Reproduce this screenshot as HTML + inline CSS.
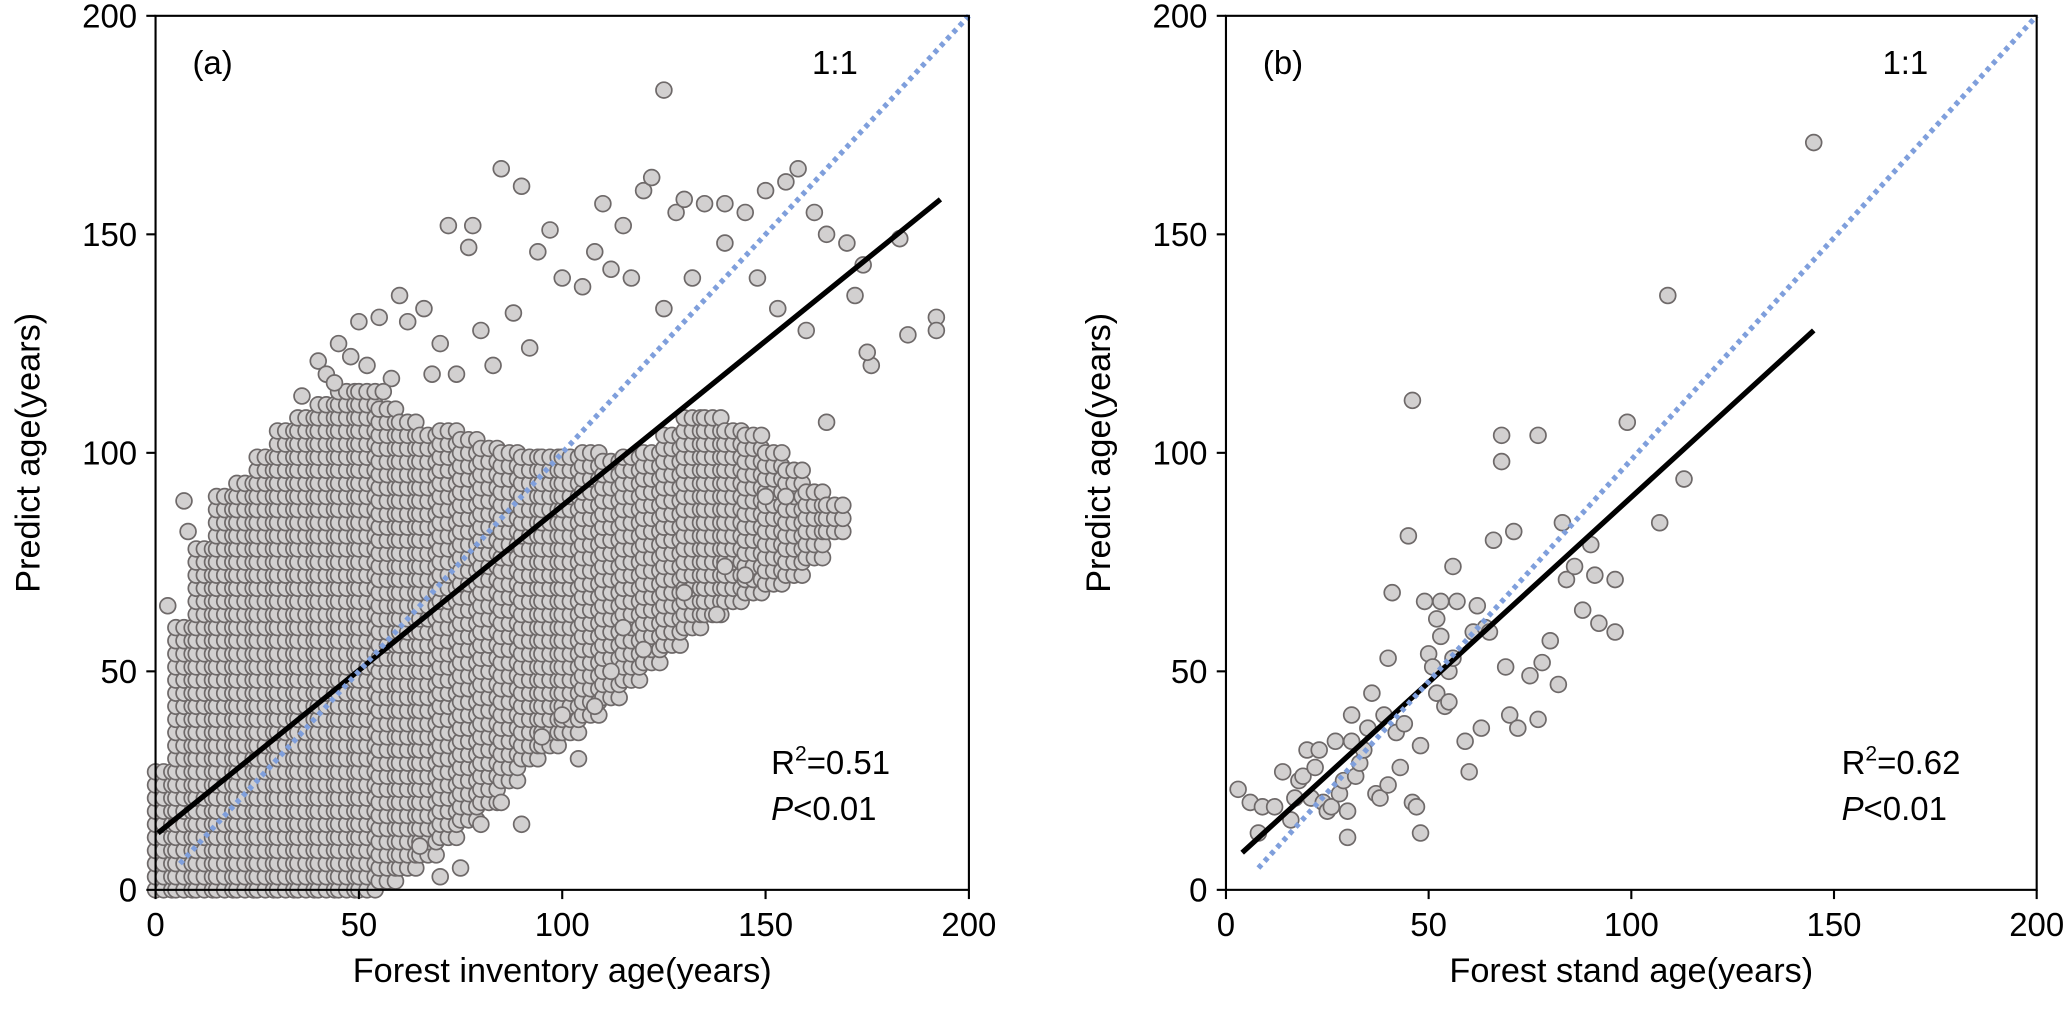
<!DOCTYPE html>
<html><head><meta charset="utf-8"><style>
html,body{margin:0;padding:0;background:#fff;overflow:hidden;}
#chart{position:fixed;left:0;top:0;width:100vw;height:100vh;}
svg text{font-family:"Liberation Sans",Arial,sans-serif;fill:#000;}
</style></head><body>
<svg id="chart" viewBox="0 0 1568 776" preserveAspectRatio="none" xmlns="http://www.w3.org/2000/svg">
<g id="pa"></g>
<g id="pb"></g>
</svg>
<script>
const ticks=[0,50,100,150,200];
// Panel a: dense-core envelope per x bin
const aBinX=[0,5,10,15,20,25,30,35,40,45,50,55,60,65,70,75,80,85,90,95,100,105,110,115,120,125,130,135,140,145,150,155,160,165,170,175,180,185,190];
const aBinHi=[28,62,80,90,95,100,105,108,112,115,115,112,108,106,105,104,103,102,101,100,100,100,100,100,102,105,108,108,106,104,100,96,92,88,84,80,75,70,65];
const aBinLo=[0,0,0,0,0,0,0,0,0,0,0,2,5,8,12,16,20,25,30,33,36,40,44,48,52,56,60,63,66,68,70,72,76,82,90,96,100,100,100];
const aOutX=[85,125,72,77,78,90,97,110,115,120,122,128,130,135,140,145,150,155,158,162,165,170,174,183,185,192,192,176,172,66,60,55,50,45,40,62,80,88,94,100,105,108,112,117,125,132,140,148,153,160,175,165,155,145,140,150,138,112,108,104,95,85,80,75,70,90,3,7,8,65,100,120,130,115,42,48,52,58,70,74,83,92,36,44,56,68];
const aOutY=[165,183,152,147,152,161,151,157,152,160,163,155,158,157,157,155,160,162,165,155,150,148,143,149,127,131,128,120,136,133,136,131,130,125,121,130,128,132,146,140,138,146,142,140,133,140,148,140,133,128,123,107,90,72,74,90,63,50,42,30,35,20,15,5,3,15,65,89,82,10,40,55,68,60,118,122,120,117,125,118,120,124,113,116,114,118];
const aFit=[[0.6,13],[193,158]];
const aOne=[[6,6],[200,200]];
// Panel b
const bX=[3,6,8,9,12,14,16,17,18,19,20,21,22,23,24,25,26,27,28,29,30,30,31,31,32,33,34,35,36,37,38,39,40,40,41,42,43,44,45,46,46,47,48,48,49,50,51,52,52,53,53,54,55,55,56,56,57,59,60,61,62,63,64,65,66,68,68,69,70,71,72,75,77,77,78,80,82,83,84,86,88,90,91,92,96,96,99,107,109,113,145];
const bY=[23,20,13,19,19,27,16,21,25,26,32,21,28,32,20,18,19,34,22,25,18,12,34,40,26,29,32,37,45,22,21,40,24,53,68,36,28,38,81,20,112,19,13,33,66,54,51,45,62,58,66,42,43,50,74,53,66,34,27,59,65,37,60,59,80,98,104,51,40,82,37,49,104,39,52,57,47,84,71,74,64,79,72,61,71,59,107,84,136,94,171];
const bFit=[[4,8.5],[145,128]];
const bOne=[[8,5],[200,200]];

const NS="http://www.w3.org/2000/svg";
function el(p,t,a){const e=document.createElementNS(NS,t);for(const k in a)e.setAttribute(k,a[k]);p.appendChild(e);return e;}
function panel(x0,x1,y0,y1){
  const sx=v=>x0+(x1-x0)*v/200, sy=v=>y0-(y0-y1)*v/200;
  return {sx,sy};
}
function axes(g,x0,x1,y0,y1,sx,sy,xtitle,tag,r2){
  const f=el(g,'rect',{x:x0,y:y1,width:x1-x0,height:y0-y1,fill:'none',stroke:'#000','stroke-width':1.6});
  
  
  ticks.forEach(t=>{
    const tx=el(g,'line',{x1:sx(t),x2:sx(t),y1:y0,y2:y0+7,stroke:'#000','stroke-width':1.6});
    
    
    const lx=el(g,'text',{x:sx(t),y:y0+35,'font-size':25,'text-anchor':'middle'});lx.textContent=t;
    
    
    const ty=el(g,'line',{x1:x0-7,x2:x0,y1:sy(t),y2:sy(t),stroke:'#000','stroke-width':1.6});
    
    
    const ly=el(g,'text',{x:x0-14,y:sy(t)+9,'font-size':25,'text-anchor':'end'});ly.textContent=t;
    
    
  });
  const xt=el(g,'text',{x:(x0+x1)/2,y:y0+70,'font-size':26,'text-anchor':'middle'});xt.textContent=xtitle;
  
  
  const yt=el(g,'text',{x:0,y:0,'font-size':26,'text-anchor':'middle',transform:`translate(${x0-88},${(y0+y1)/2}) rotate(-90)`});yt.textContent='Predict age(years)';
  
  
  const pl=el(g,'text',{x:x0+28,y:y1+44,'font-size':25});pl.textContent=tag;
  
  
  const one=el(g,'text',{x:x0+498,y:y1+44,'font-size':25});one.textContent='1:1';
  
  
  const r=el(g,'text',{x:x0+467,y:y0-88,'font-size':25});
  r.innerHTML='R<tspan dy="-10" font-size="16">2</tspan><tspan dy="10">='+r2+'</tspan>';
  
  
  const p=el(g,'text',{x:x0+467,y:y0-53,'font-size':25});
  p.innerHTML='<tspan font-style="italic">P</tspan>&lt;0.01';
  
  
}
function pt(g,x,y){
  const c=el(g,'circle',{cx:x,cy:y,r:6,fill:'#d2d0d0',stroke:'#6e6969','stroke-width':1.3});
  
  
}
function lines(g,sx,sy,fit,one){
  const l=el(g,'line',{x1:sx(fit[0][0]),y1:sy(fit[0][1]),x2:sx(fit[1][0]),y2:sy(fit[1][1]),stroke:'#000','stroke-width':4});
  
  
  const o=el(g,'line',{x1:sx(one[0][0]),y1:sy(one[0][1]),x2:sx(one[1][0]),y2:sy(one[1][1]),stroke:'#7f9fdc','stroke-width':4,'stroke-dasharray':'3.5 3.5'});
  
  
}
(function(){
  const g=document.getElementById('pa');const x0=118,x1=735,y0=675,y1=12;
  const {sx,sy}=panel(x0,x1,y0,y1);
  const pts=el(g,'g',{});
  
  
  for(let i=0;i<aBinX.length;i++){
    for(let dx=0;dx<5;dx+=2){
      const x=aBinX[i]+dx;
      for(let y=aBinLo[i];y<=aBinHi[i];y+=3) pt(pts,sx(x),sy(y));
    }
  }
  for(let i=0;i<aOutX.length;i++) pt(pts,sx(aOutX[i]),sy(aOutY[i]));
  lines(g,sx,sy,aFit,aOne);
  axes(g,x0,x1,y0,y1,sx,sy,'Forest inventory age(years)','(a)','0.51');
})();
(function(){
  const g=document.getElementById('pb');const x0=930,x1=1545,y0=675,y1=12;
  const {sx,sy}=panel(x0,x1,y0,y1);
  const pts=el(g,'g',{});
  
  
  for(let i=0;i<bX.length;i++) pt(pts,sx(bX[i]),sy(bY[i]));
  lines(g,sx,sy,bFit,bOne);
  axes(g,x0,x1,y0,y1,sx,sy,'Forest stand age(years)','(b)','0.62');
})();
</script>
</body></html>
